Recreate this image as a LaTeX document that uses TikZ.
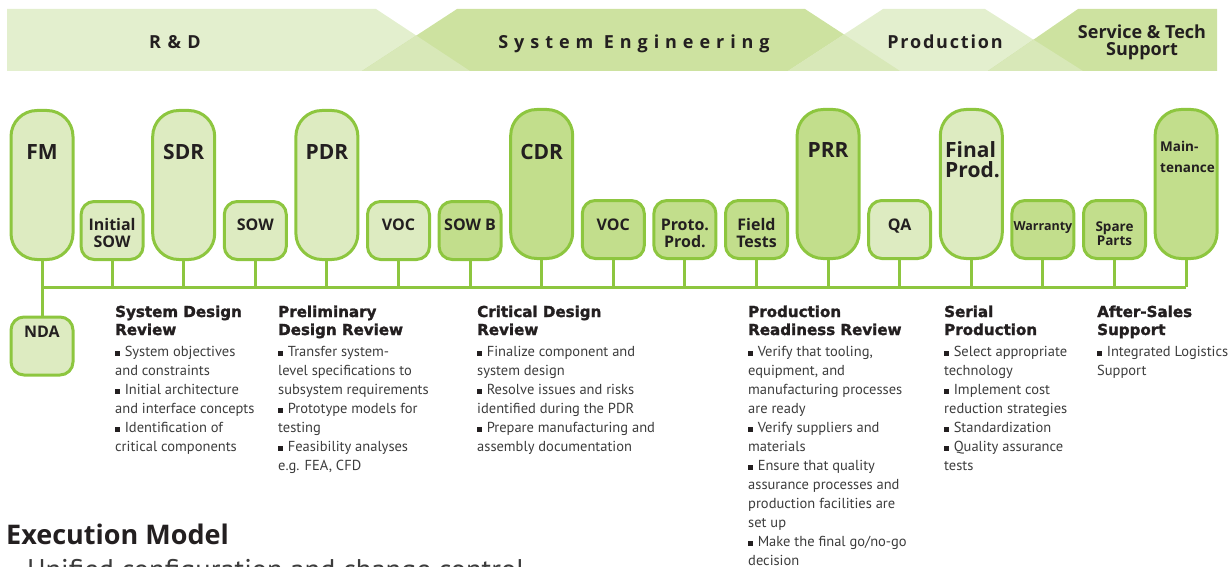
\documentclass[tikz,border=0pt]{standalone}
\usepackage{fontspec}
\setmainfont{PT Sans}
\newfontfamily\heavyfont{DejaVu Sans}[FakeBold=1.6]
\newfontfamily\labfont{Open Sans}
\definecolor{gborder}{HTML}{8DC63F}
\definecolor{glite}{HTML}{DDEBC1}
\definecolor{gdark}{HTML}{C2DE8C}
\definecolor{blite}{HTML}{E3EFCE}
\definecolor{bdark}{HTML}{CDE2A0}
\definecolor{bmix}{HTML}{D8E8B8}
\definecolor{ink}{HTML}{231F20}
\definecolor{body}{HTML}{3C3C3C}
\newcommand\bsq{{\color{ink}\rule{0.36em}{0.36em}}\hspace{0.3em}}
\tikzset{
  box/.style={draw=gborder, line width=3pt, minimum width=62pt, inner sep=0pt},
  tall/.style={box, minimum height=149pt, rounded corners=26pt},
  short/.style={box, minimum height=58pt, rounded corners=13pt},
  lite/.style={fill=glite},
  dark/.style={fill=gdark},
  lbl/.style={font=\labfont\bfseries\fontsize{16}{17}\selectfont, text=ink, align=center, anchor=base, inner sep=0pt},
  biglbl/.style={lbl, font=\labfont\bfseries\fontsize{21}{20}\selectfont},
  conn/.style={draw=gborder, line width=3pt},
  band/.style={font=\labfont\bfseries\fontsize{18}{17}\selectfont, text=ink, anchor=base, inner sep=0pt, align=center},
  head/.style={font=\heavyfont\bfseries\fontsize{15.1}{18}\selectfont, text=ink, anchor=base west, inner sep=0pt, align=left},
  txt/.style={font=\fontsize{14.5}{19}\selectfont, text=body, anchor=base west, inner sep=0pt, align=left},
}
\begin{document}
\begin{tikzpicture}[x=1pt,y=-1pt]
\useasboundingbox (0,0) rectangle (1232,567);
% ---- banner ----
\fill[blite] (7,9) -- (376,9) -- (470,71) -- (7,71) -- cycle;
\fill[bdark] (457,9) -- (805,9) -- (900,71) -- (362,71) -- cycle;
\fill[blite] (883,9) -- (985,9) -- (1083,71) -- (788,71) -- cycle;
\fill[bdark] (1078,9) -- (1217,9) -- (1217,71) -- (988,71) -- cycle;
\begin{scope}
  \clip (7,9) -- (376,9) -- (470,71) -- (7,71) -- cycle;
  \fill[bmix] (457,9) -- (805,9) -- (900,71) -- (362,71) -- cycle;
\end{scope}
\begin{scope}
  \clip (457,9) -- (805,9) -- (900,71) -- (362,71) -- cycle;
  \fill[bmix] (883,9) -- (985,9) -- (1083,71) -- (788,71) -- cycle;
\end{scope}
\begin{scope}
  \clip (883,9) -- (985,9) -- (1083,71) -- (788,71) -- cycle;
  \fill[bmix] (1078,9) -- (1217,9) -- (1217,71) -- (988,71) -- cycle;
\end{scope}
\node[band, font=\labfont\bfseries\fontsize{18}{17}\selectfont\addfontfeature{LetterSpace=10}] (bRD) at (175,49) {R \& D};
\node[band, font=\labfont\bfseries\fontsize{18}{17}\selectfont\addfontfeature{LetterSpace=33}] (bSE) at (634,49) {System Engineering};
\node[band, font=\labfont\bfseries\fontsize{18}{17}\selectfont\addfontfeature{LetterSpace=10}] (bPR) at (945,49) {Production};
\node[band] (bST) at (1142,56) {Service \& Tech\\Support};
% ---- boxes ----
\node[tall,lite]  (FM)   at (42,185)    {};
\node[short,lite] (ISOW) at (112.1,230.5) {};
\node[tall,lite]  (SDR)  at (183.7,185) {};
\node[short,lite] (SOW)  at (255.3,230.5) {};
\node[tall,lite]  (PDR)  at (326.9,185) {};
\node[short,lite] (VOCa) at (398.5,230.5) {};
\node[short,dark] (SOWB) at (470.1,230.5) {};
\node[tall,dark]  (CDR)  at (541.7,184) {};
\node[short,dark] (VOCb) at (613.3,229.5) {};
\node[short,dark] (PP)   at (684.9,229.5) {};
\node[short,dark] (FT)   at (756.5,229.5) {};
\node[tall,dark]  (PRR)  at (828.1,184) {};
\node[short,lite] (QA)   at (899.7,229.5) {};
\node[tall,lite]  (FP)   at (971.3,184) {};
\node[short,dark] (WAR)  at (1042.9,229.5) {};
\node[short,dark] (SP)   at (1114.5,229.5) {};
\node[tall,dark]  (MT)   at (1186.1,184) {};
\node[short,lite] (NDA)  at (42,346) {};
% ---- box labels ----
\node[biglbl] (lFM)  at (42,159.5)    {FM};
\node[lbl]    (lISOW) at (112.1,247.5) {Initial\\SOW};
\node[biglbl] (lSDR) at (183.7,159.5) {SDR};
\node[lbl]    (lSOW) at (255.3,230.5) {SOW};
\node[biglbl] (lPDR) at (326.9,159.5) {PDR};
\node[lbl]    (lVOCa) at (398.5,230.5) {VOC};
\node[lbl]    (lSOWB) at (470.1,230.5) {SOW B};
\node[biglbl] (lCDR) at (541.7,159.5) {CDR};
\node[lbl]    (lVOCb) at (613.3,230.5) {VOC};
\node[lbl]    (lPP)  at (684.9,247.5) {Proto.\\Prod.};
\node[lbl]    (lFT)  at (756.5,247.5) {Field\\Tests};
\node[biglbl] (lPRR) at (828.1,157.5) {PRR};
\node[lbl]    (lQA)  at (899.7,230.5) {QA};
\node[lbl, anchor=base west, align=left, font=\labfont\bfseries\fontsize{21}{20}\selectfont] (lFP) at (945,178) {Final\\Prod.};
\node[lbl, font=\labfont\bfseries\fontsize{12.5}{14}\selectfont] (lWAR) at (1042.9,230) {Warranty};
\node[lbl, font=\labfont\bfseries\fontsize{13.5}{14}\selectfont] (lSP) at (1114.5,245) {Spare\\Parts};
\node[lbl, anchor=base west, align=left, font=\labfont\bfseries\fontsize{13.5}{21}\selectfont] (lMT) at (1160,173) {Main-\\tenance};
\node[lbl] (lNDA) at (42,337.5) {NDA};
% ---- connectors ----
\coordinate (hl) at (42,287);
\coordinate (hr) at (1186.1,287);
\draw[conn] (hl) -- (hr);
\draw[conn] (FM.south) -- (NDA.north);
\foreach \n in {ISOW,SDR,SOW,PDR,VOCa,SOWB,CDR,VOCb,PP,FT,PRR,QA,FP,WAR,SP,MT}
  \draw[conn] (\n.south) -- (\n.south |- hl);
% ---- descriptions ----
\node[head] (hSDR) at (115,335) {System Design\\Review};
\node[txt]  (tSDR) at (115,451) {\bsq System objectives\\and constraints\\\bsq Initial architecture\\and interface concepts\\\bsq Identification of\\critical components};
\node[head] (hPDR) at (278,335) {Preliminary\\Design Review};
\node[txt]  (tPDR) at (278,470) {\bsq Transfer system-\\level specifications to\\subsystem requirements\\\bsq Prototype models for\\testing\\\bsq Feasibility analyses\\e.g. FEA, CFD};
\node[head] (hCDR) at (477,335) {Critical Design\\Review};
\node[txt]  (tCDR) at (477,451) {\bsq Finalize component and\\system design\\\bsq Resolve issues and risks\\identified during the PDR\\\bsq Prepare manufacturing and\\assembly documentation};
\node[head] (hPRR) at (748,335) {Production\\Readiness Review};
\node[txt]  (tPRR) at (748,565) {\bsq Verify that tooling,\\equipment, and\\manufacturing processes\\are ready\\\bsq Verify suppliers and\\materials\\\bsq Ensure that quality\\assurance processes and\\production facilities are\\set up\\\bsq Make the final go/no-go\\decision};
\node[head] (hSP) at (944,335) {Serial\\Production};
\node[txt]  (tSP) at (944,470) {\bsq Select appropriate\\technology\\\bsq Implement cost\\reduction strategies\\\bsq Standardization\\\bsq Quality assurance\\tests};
\node[head] (hAS) at (1097,335) {After-Sales\\Support};
\node[txt]  (tAS) at (1097,375) {\bsq Integrated Logistics\\Support};
% ---- execution model ----
\node[anchor=base west, inner sep=0pt, text=ink, font=\labfont\bfseries\fontsize{27}{30}\selectfont] (EM) at (6,544) {Execution Model};
\node[anchor=base west, inner sep=0pt, text=body, font=\fontsize{28.5}{30}\selectfont] (EM2) at (9,579) {- Unified configuration and change control};
\end{tikzpicture}
\end{document}
